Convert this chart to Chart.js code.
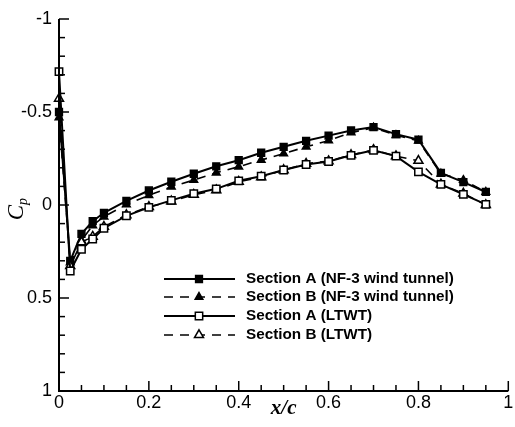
<!DOCTYPE html>
<html>
<head>
<meta charset="utf-8">
<script src="https://cdn.jsdelivr.net/npm/chart.js@4/dist/chart.umd.min.js"></script>
<style>
  html, body { margin: 0; padding: 0; background: #fff; }
  #cp { display: block; }
</style>
</head>
<body>
<canvas id="cp" width="515" height="427"></canvas>
<script>
// x/c stations
var xc = [0, 0.025, 0.05, 0.075, 0.1, 0.15, 0.2, 0.25, 0.3, 0.35, 0.4, 0.45, 0.5, 0.55, 0.6, 0.65, 0.7, 0.75, 0.8, 0.85, 0.9, 0.95];

// Cp values
var secA_nf3  = [-0.50, 0.300, 0.155, 0.087, 0.042, -0.022, -0.078, -0.125, -0.168, -0.208, -0.241, -0.281, -0.313, -0.345, -0.373, -0.401, -0.419, -0.381, -0.351, -0.173, -0.123, -0.070];
var secB_nf3  = [-0.47, 0.310, 0.190, 0.110, 0.063, -0.003, -0.052, -0.098, -0.134, -0.173, -0.206, -0.242, -0.276, -0.313, -0.346, -0.389, -0.416, -0.375, -0.345, -0.168, -0.134, -0.070];
var secA_ltwt = [-0.717, 0.355, 0.238, 0.183, 0.125, 0.058, 0.013, -0.025, -0.061, -0.087, -0.130, -0.155, -0.188, -0.218, -0.234, -0.267, -0.294, -0.263, -0.178, -0.111, -0.057, -0.003];
var secB_ltwt = [-0.572, 0.328, 0.200, 0.170, 0.117, 0.054, 0.010, -0.020, -0.055, -0.080, -0.125, -0.150, -0.188, -0.222, -0.236, -0.269, -0.296, -0.263, -0.238, -0.111, -0.062, 0.000];

var legendNames = ["Section A (NF-3 wind tunnel)", "Section B (NF-3 wind tunnel)", "Section A (LTWT)", "Section B (LTWT)"];

var xMajor = [0, 0.2, 0.4, 0.6, 0.8, 1];
var xMajorLabels = ["0", "0.2", "0.4", "0.6", "0.8", "1"];
var yMajor = [-1, -0.5, 0, 0.5, 1];
var yMajorLabels = ["-1", "-0.5", "0", "0.5", "1"];

function pts(ys) {
  var out = [];
  for (var i = 0; i < ys.length; i++) out.push({ x: xc[i], y: ys[i] });
  return out;
}

function serie(label, ys, style, fill, dashed, r) {
  return {
    label: label,
    data: pts(ys),
    borderColor: "#000",
    borderWidth: dashed ? 1.6 : 2,
    borderDash: dashed ? [9, 7] : [],
    tension: 0,
    fill: false,
    clip: false,
    pointStyle: style,
    pointRadius: r,
    pointBackgroundColor: fill ? "#000" : "#fff",
    pointBorderColor: "#000",
    pointBorderWidth: 1.5
  };
}

var sets = [
  serie(legendNames[2], secA_ltwt, "rect", false, false, 5.2),
  serie(legendNames[3], secB_ltwt, "triangle", false, true, 5.2),
  serie(legendNames[0], secA_nf3, "rect", true, false, 4.8),
  serie(legendNames[1], secB_nf3, "triangle", true, true, 4.4)
];

var axesPlugin = {
  id: "tecplotAxes",
  afterDraw: function (chart) {
    var ctx = chart.ctx;
    var a = chart.chartArea;
    var sx = chart.scales.x, sy = chart.scales.y;
    ctx.save();
    ctx.strokeStyle = "#000";
    ctx.fillStyle = "#000";

    // axis lines
    ctx.lineWidth = 2;
    ctx.beginPath();
    ctx.moveTo(a.left, a.top);
    ctx.lineTo(a.left, a.bottom);
    ctx.lineTo(a.right, a.bottom);
    ctx.stroke();

    // ticks
    ctx.lineWidth = 1.5;
    var i, v, p;
    for (i = 0; i <= 20; i++) {
      v = i * 0.05;
      p = sx.getPixelForValue(v);
      var len = (i % 4 === 0) ? 10 : 6;
      ctx.beginPath();
      ctx.moveTo(p, a.bottom);
      ctx.lineTo(p, a.bottom - len);
      ctx.stroke();
    }
    for (i = 0; i <= 20; i++) {
      v = -1 + i * 0.1;
      p = sy.getPixelForValue(v);
      var len2 = (i % 5 === 0) ? 10 : 6;
      ctx.beginPath();
      ctx.moveTo(a.left, p);
      ctx.lineTo(a.left + len2, p);
      ctx.stroke();
    }

    // tick labels
    ctx.font = "18px 'Liberation Sans', Arial, sans-serif";
    ctx.textAlign = "center";
    ctx.textBaseline = "middle";
    for (i = 0; i < xMajor.length; i++) {
      ctx.fillText(xMajorLabels[i], sx.getPixelForValue(xMajor[i]), a.bottom + 12);
    }
    ctx.textAlign = "right";
    for (i = 0; i < yMajor.length; i++) {
      ctx.fillText(yMajorLabels[i], a.left - 7, sy.getPixelForValue(yMajor[i]));
    }

    // axis titles
    ctx.font = "italic bold 21px 'Liberation Serif', 'Times New Roman', serif";
    ctx.textAlign = "center";
    ctx.fillText("x/c", (a.left + a.right) / 2, a.bottom + 18);

    ctx.save();
    ctx.translate(23, sy.getPixelForValue(0) + 2);
    ctx.rotate(-Math.PI / 2);
    ctx.textAlign = "right";
    ctx.textBaseline = "alphabetic";
    ctx.font = "italic 23px 'Liberation Serif', 'Times New Roman', serif";
    ctx.fillText("C", 2, 0);
    ctx.textAlign = "left";
    ctx.font = "italic 14px 'Liberation Serif', 'Times New Roman', serif";
    ctx.fillText("p", 2, 4);
    ctx.restore();

    // legend
    var rows = [279, 297, 316, 335];
    var order = [2, 3, 0, 1];
    var lx0 = 164, lx1 = 235, mx = 199, tx = 246;
    ctx.font = "bold 12px 'Liberation Sans', Arial, sans-serif";
    var w = ctx.measureText(legendNames[0]).width;
    var fs = 12 * 208 / w;
    ctx.font = "bold " + fs.toFixed(2) + "px 'Liberation Sans', Arial, sans-serif";
    ctx.textAlign = "left";
    ctx.textBaseline = "middle";
    for (i = 0; i < 4; i++) {
      var ds = sets[order[i]];
      var y = rows[i];
      ctx.lineWidth = ds.borderWidth;
      ctx.setLineDash(ds.borderDash);
      ctx.beginPath();
      ctx.moveTo(lx0, y);
      ctx.lineTo(lx1, y);
      ctx.stroke();
      ctx.setLineDash([]);
      ctx.lineWidth = ds.pointBorderWidth;
      ctx.fillStyle = ds.pointBackgroundColor;
      ctx.strokeStyle = ds.pointBorderColor;
      Chart.helpers.drawPoint(ctx, { pointStyle: ds.pointStyle, radius: ds.pointRadius, rotation: 0, borderWidth: ds.pointBorderWidth }, mx, y);
      ctx.fillStyle = "#000";
      ctx.strokeStyle = "#000";
      ctx.fillText(ds.label, tx, y);
    }
    ctx.restore();
  }
};

new Chart(document.getElementById("cp"), {
  type: "line",
  data: { datasets: sets },
  options: {
    responsive: false,
    animation: false,
    layout: { padding: { left: 59, right: 2, top: 19, bottom: 36 } },
    scales: {
      x: { type: "linear", min: 0, max: 1, display: false },
      y: { type: "linear", min: -1, max: 1, reverse: true, display: false }
    },
    plugins: { legend: { display: false }, tooltip: { enabled: false } }
  },
  plugins: [axesPlugin]
});
</script>
</body>
</html>
